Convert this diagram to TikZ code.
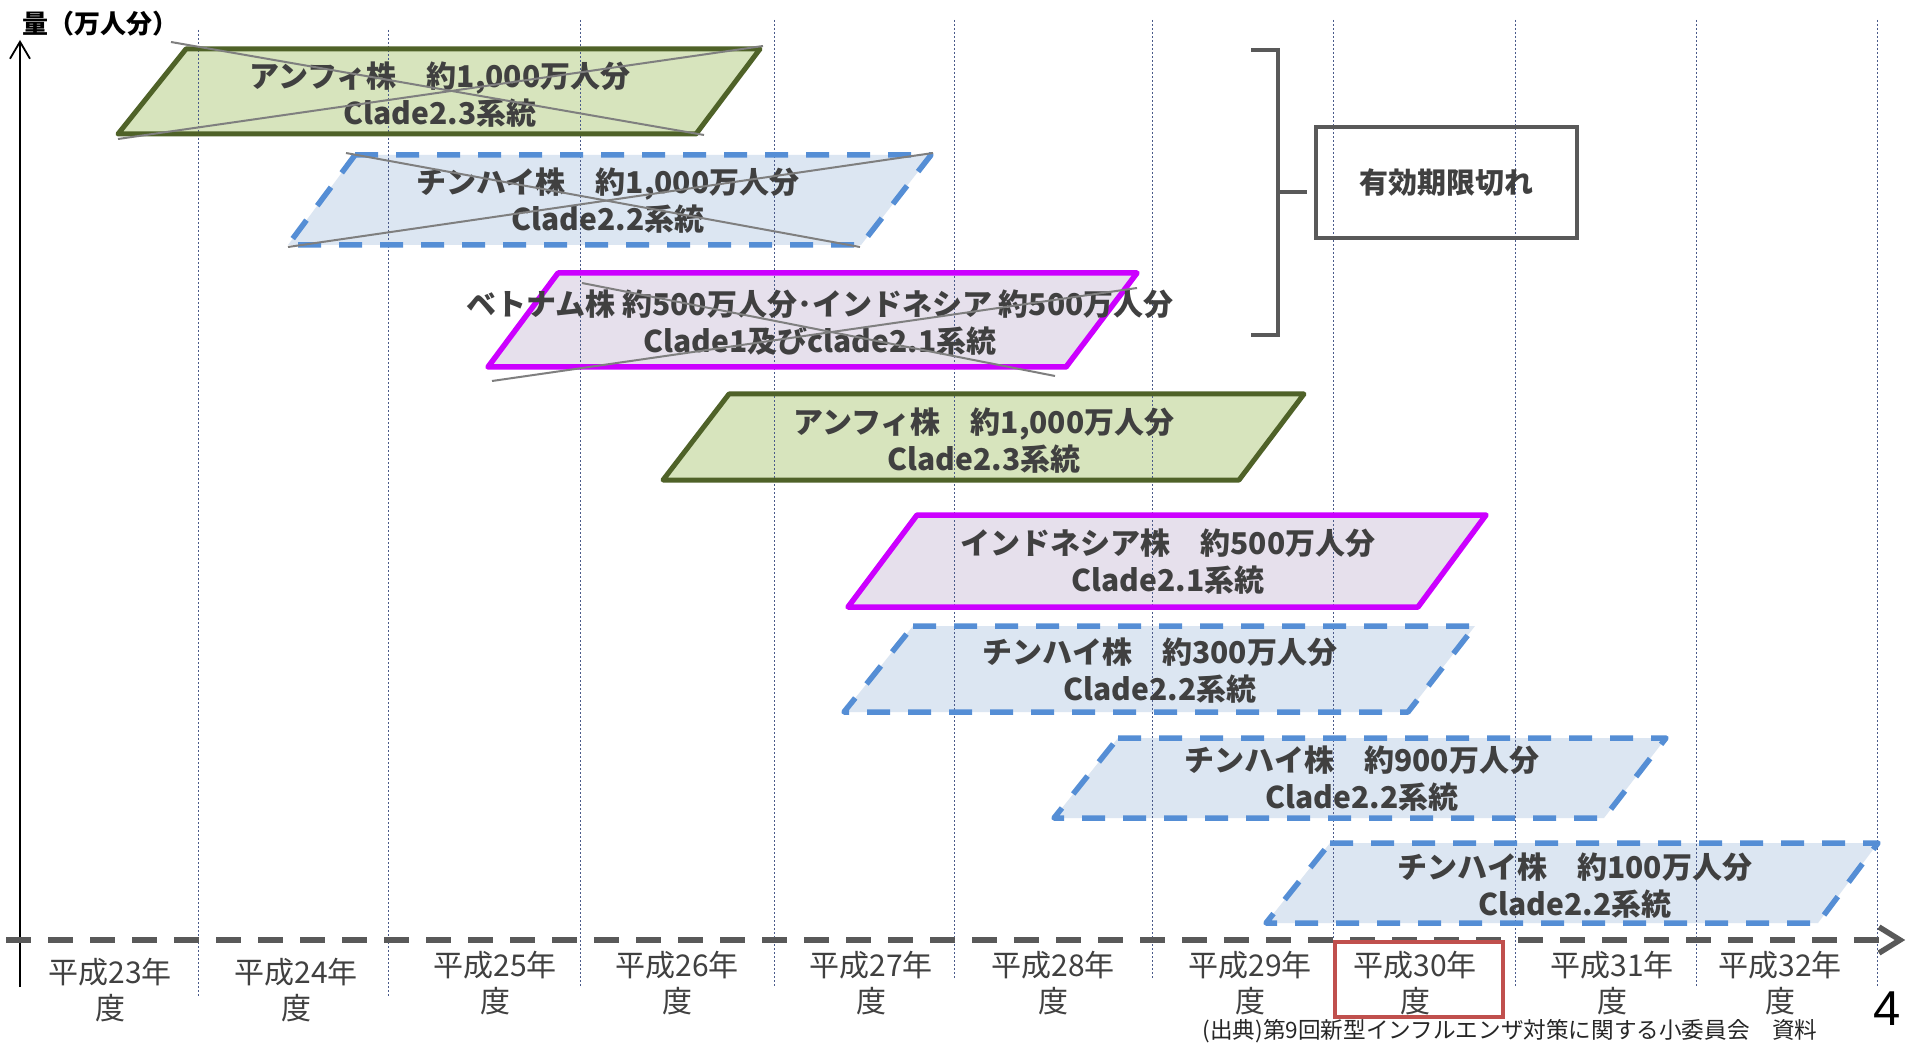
\documentclass[tikz,border=0pt]{standalone}
\usepackage{fontspec}
\setmainfont{Noto Sans CJK JP}
\newfontfamily\arialf{Liberation Sans}
\usetikzlibrary{arrows.meta}
\definecolor{gfill}{HTML}{D7E4BD}
\definecolor{gline}{HTML}{4F6228}
\definecolor{bfill}{HTML}{DCE6F2}
\definecolor{bline}{HTML}{558ED5}
\definecolor{mfill}{HTML}{E6E0EC}
\definecolor{mline}{HTML}{CC00FF}
\definecolor{txt}{HTML}{404040}
\definecolor{darkg}{HTML}{595959}
\definecolor{xgray}{HTML}{7F7F7F}
\definecolor{gridc}{HTML}{4A5A8A}
\definecolor{redc}{HTML}{C0504D}
\definecolor{srcc}{HTML}{262626}
\begin{document}
\begin{tikzpicture}[x=0.5pt,y=-0.5pt,
  gridln/.style={draw=gridc, line width=0.45pt, dash pattern=on 1pt off 1pt},
  gbord/.style={draw=gline, line width=2.5pt, line join=round},
  bbord/.style={draw=bline, line width=2.75pt, dash pattern=on 11.5pt off 9pt, line join=round},
  mbord/.style={draw=mline, line width=2.75pt, line join=round},
  xline/.style={draw=xgray, line width=1pt},
  lbl/.style={font=\fontsize{15}{18.5}\selectfont\bfseries, text=txt, align=center, inner sep=0pt},
  yrlbl/.style={font=\fontsize{15}{18}\selectfont, text=txt, align=center, inner sep=0pt},
  brk/.style={draw=darkg, line width=2pt},
]
\path[use as bounding box, fill=white] (0,0) rectangle (1908,1043);

% parallelogram corners
\coordinate (A1) at (186,49);  \coordinate (A2) at (760,49);  \coordinate (A3) at (696,134); \coordinate (A4) at (118,134);
\coordinate (B1) at (355,155); \coordinate (B2) at (931,155); \coordinate (B3) at (861,245); \coordinate (B4) at (288,245);
\coordinate (C1) at (558,273); \coordinate (C2) at (1137,273);\coordinate (C3) at (1066,367);\coordinate (C4) at (488,367);
\coordinate (D1) at (729,394); \coordinate (D2) at (1304,394);\coordinate (D3) at (1239,480);\coordinate (D4) at (663,480);
\coordinate (E1) at (917,515); \coordinate (E2) at (1486,515);\coordinate (E3) at (1418,607);\coordinate (E4) at (848,607);
\coordinate (F1) at (913,626); \coordinate (F2) at (1475,626);\coordinate (F3) at (1408,712);\coordinate (F4) at (844,712);
\coordinate (G1) at (1118,738);\coordinate (G2) at (1666,738);\coordinate (G3) at (1604,818);\coordinate (G4) at (1054,818);
\coordinate (H1) at (1330,843);\coordinate (H2) at (1878,843);\coordinate (H3) at (1818,923);\coordinate (H4) at (1266,923);

% fills
\fill[gfill] (A1)--(A2)--(A3)--(A4)--cycle;
\fill[bfill] (B1)--(B2)--(B3)--(B4)--cycle;
\fill[mfill] (C1)--(C2)--(C3)--(C4)--cycle;
\fill[gfill] (D1)--(D2)--(D3)--(D4)--cycle;
\fill[mfill] (E1)--(E2)--(E3)--(E4)--cycle;
\fill[bfill] (F1)--(F2)--(F3)--(F4)--cycle;
\fill[bfill] (G1)--(G2)--(G3)--(G4)--cycle;
\fill[bfill] (H1)--(H2)--(H3)--(H4)--cycle;

% grid lines
\foreach \gx/\gt/\gb in {198/30/997, 388/30/997, 580/20/987, 774/20/987, 954/20/980, 1152/20/978, 1333/20/978, 1515/20/987, 1696/20/987, 1877/20/987}
  \draw[gridln] (\gx,\gt) -- (\gx,\gb);

% borders
\draw[gbord] (A1)--(A2)--(A3)--(A4)--cycle;
\draw[bbord] (B1)--(B2)--(B3)--(B4)--cycle;
\draw[mbord] (C1)--(C2)--(C3)--(C4)--cycle;
\draw[gbord] (D1)--(D2)--(D3)--(D4)--cycle;
\draw[mbord] (E1)--(E2)--(E3)--(E4)--cycle;
\draw[bbord] (F1)--(F2)--(F3)--(F4)--cycle;
\draw[bbord] (G1)--(G2)--(G3)--(G4)--cycle;
\draw[bbord] (H1)--(H2)--(H3)--(H4)--cycle;

% labels
\node[lbl] (tA) at (440,95)  {アンフィ株　約1,000万人分\\Clade2.3系統};
\node[lbl] (tB) at (608,201) {チンハイ株　約1,000万人分\\Clade2.2系統};
\node[lbl] (tC) at (820,323) {ベトナム株 約500万人分･インドネシア 約500万人分\\Clade1及びclade2.1系統};
\node[lbl] (tD) at (984,441) {アンフィ株　約1,000万人分\\Clade2.3系統};
\node[lbl] (tE) at (1168,562) {インドネシア株　約500万人分\\Clade2.1系統};
\node[lbl] (tF) at (1160,671) {チンハイ株　約300万人分\\Clade2.2系統};
\node[lbl] (tG) at (1362,779) {チンハイ株　約900万人分\\Clade2.2系統};
\node[lbl] (tH) at (1575,886) {チンハイ株　約100万人分\\Clade2.2系統};

% cross-out lines
\coordinate (xa1) at (171,42);  \coordinate (xa2) at (704,135);
\coordinate (xa3) at (118,139); \coordinate (xa4) at (763,46);
\coordinate (xb1) at (346,153); \coordinate (xb2) at (860,247);
\coordinate (xb3) at (288,247); \coordinate (xb4) at (933,153);
\coordinate (xc1) at (582,283); \coordinate (xc2) at (1055,376);
\coordinate (xc3) at (492,381); \coordinate (xc4) at (1137,288);
\draw[xline] (xa1) -- (xa2); \draw[xline] (xa3) -- (xa4);
\draw[xline] (xb1) -- (xb2); \draw[xline] (xb3) -- (xb4);
\draw[xline] (xc1) -- (xc2); \draw[xline] (xc3) -- (xc4);

% bracket and expiry box
\node[draw=darkg, line width=2pt, minimum width=130.5pt, minimum height=55.5pt, inner sep=0pt,
      font=\fontsize{14.5}{17}\selectfont\bfseries, text=txt] (exp) at (1446.5,182.5) {有効期限切れ};
\coordinate (bt) at (1251,50); \coordinate (bb) at (1251,335);
\coordinate (bm) at (1278,192); \coordinate (be) at (1307,192);
\draw[brk, line join=miter] (bt) -- (1278,50) -- (1278,335) -- (bb);
\draw[brk] (bm) -- (be);

% y axis
\coordinate (y0) at (20,987); \coordinate (y1) at (20,40);
\draw[black, line width=0.9pt, -{Straight Barb[length=8.5pt,width=10pt]}] (y0) -- (y1);
\node[font=\fontsize{13}{15}\selectfont\bfseries, text=black, inner sep=0pt] (ylab) at (101,24) {量（万人分）};

% time axis
\coordinate (t0) at (6,940); \coordinate (t1) at (1893,940); \coordinate (ttip) at (1900,940);
\draw[darkg, line width=2.75pt, dash pattern=on 12.5pt off 8.5pt] (t0) -- (t1);
\draw[darkg, line width=2.75pt, line join=miter] (1879,927) -- (ttip) -- (1879,953);

% year labels
\node[yrlbl] (y23) at (110,990.5) {平成23年\\度};
\node[yrlbl] (y24) at (296,990.5) {平成24年\\度};
\node[yrlbl] (y25) at (495,983.5) {平成25年\\度};
\node[yrlbl] (y26) at (677,983.5) {平成26年\\度};
\node[yrlbl] (y27) at (871,983.5) {平成27年\\度};
\node[yrlbl] (y28) at (1053,983.5) {平成28年\\度};
\node[yrlbl] (y29) at (1250,983.5) {平成29年\\度};
\node[yrlbl] (y30) at (1415,983.5) {平成30年\\度};
\node[yrlbl] (y31) at (1612,983.5) {平成31年\\度};
\node[yrlbl] (y32) at (1780,983.5) {平成32年\\度};

% highlight
\node[draw=redc, line width=2pt, minimum width=84pt, minimum height=37.5pt, inner sep=0pt] (hl) at (1419,979.5) {};

% source and page number
\node[font=\fontsize{11.3}{13}\selectfont, text=srcc, inner sep=0pt] (src) at (1510,1031) {(出典)第9回新型インフルエンザ対策に関する小委員会　資料};
\node[font=\arialf\fontsize{24.5}{26}\selectfont, text=black, inner sep=0pt, anchor=base] (pg) at (1887,1025) {4};
\end{tikzpicture}
\end{document}
